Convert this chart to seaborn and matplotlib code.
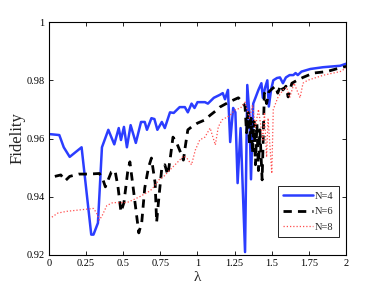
import numpy as np
import pandas as pd
import seaborn as sns
import matplotlib
matplotlib.use("Agg")
import matplotlib.pyplot as plt

# %% Dados

lam_n4 = [0.01, 0.07, 0.10, 0.14, 0.22, 0.285, 0.30, 0.33, 0.357, 0.40, 0.44, 0.47,
          0.485, 0.505, 0.525, 0.55, 0.585, 0.62, 0.645, 0.66, 0.69, 0.71, 0.73,
          0.76, 0.78, 0.815, 0.84, 0.88, 0.915, 0.935, 0.96, 0.98, 1.0, 1.05,
          1.07, 1.11, 1.15, 1.17, 1.185, 1.205, 1.22, 1.24, 1.255, 1.27, 1.29,
          1.32, 1.335, 1.35, 1.36, 1.375, 1.39, 1.41, 1.43, 1.44, 1.455, 1.47,
          1.48, 1.495, 1.51, 1.535, 1.555, 1.575, 1.595, 1.62, 1.645, 1.66,
          1.675, 1.70, 1.76, 1.845, 1.96, 2.0]
fid_n4 = [0.9615, 0.9612, 0.957, 0.9537, 0.957, 0.927, 0.927, 0.931, 0.957, 0.963,
          0.958, 0.9636, 0.9595, 0.964, 0.957, 0.9646, 0.9585, 0.9657, 0.9657,
          0.963, 0.967, 0.9667, 0.963, 0.9657, 0.9636, 0.969, 0.9688, 0.9708,
          0.9708, 0.969, 0.972, 0.9705, 0.9725, 0.9725, 0.972, 0.974, 0.975,
          0.9756, 0.9735, 0.9767, 0.9588, 0.9705, 0.969, 0.9447, 0.9636, 0.921,
          0.9784, 0.968, 0.946, 0.972, 0.974, 0.9767, 0.979, 0.974, 0.9775,
          0.980, 0.971, 0.9767, 0.980, 0.9808, 0.981, 0.979, 0.981, 0.9818,
          0.9818, 0.9825, 0.9818, 0.983, 0.9839, 0.9845, 0.985, 0.9857]

lam_n6 = [0.04, 0.08, 0.11, 0.14, 0.20, 0.27, 0.34, 0.365, 0.38, 0.42, 0.445,
          0.465, 0.485, 0.505, 0.53, 0.545, 0.565, 0.59, 0.605, 0.625, 0.645,
          0.67, 0.69, 0.715, 0.725, 0.74, 0.76, 0.78, 0.80, 0.815, 0.835, 0.86,
          0.88, 0.905, 0.92, 0.935, 0.96, 1.0, 1.05, 1.085, 1.12, 1.15, 1.2,
          1.24, 1.275, 1.305, 1.32, 1.33, 1.34, 1.35, 1.36, 1.37, 1.38, 1.39,
          1.40, 1.41, 1.42, 1.435, 1.45, 1.465, 1.48, 1.50, 1.525, 1.54, 1.56,
          1.575, 1.595, 1.61, 1.635, 1.67, 1.71, 1.78, 1.87, 1.94, 2.0]
fid_n6 = [0.947, 0.9475, 0.9455, 0.947, 0.9478, 0.9478, 0.948, 0.9457, 0.9434,
          0.9485, 0.949, 0.9434, 0.9348, 0.938, 0.9485, 0.952, 0.944, 0.9337,
          0.9276, 0.9313, 0.943, 0.950, 0.9533, 0.9447, 0.9313, 0.9396, 0.950,
          0.951, 0.9475, 0.9526, 0.9605, 0.9585, 0.956, 0.9526, 0.958, 0.963,
          0.964, 0.9653, 0.9664, 0.968, 0.9694, 0.9708, 0.9722, 0.9732, 0.974,
          0.9725, 0.971, 0.962, 0.969, 0.958, 0.967, 0.955, 0.966, 0.951, 0.965,
          0.949, 0.963, 0.9458, 0.9756, 0.972, 0.976, 0.977, 0.978, 0.9756,
          0.9784, 0.9767, 0.978, 0.9743, 0.979, 0.980, 0.981, 0.9825, 0.983,
          0.984, 0.9848]

lam_n8 = [0.02, 0.06, 0.12, 0.21, 0.30, 0.32, 0.34, 0.36, 0.39, 0.43, 0.525,
          0.565, 0.61, 0.68, 0.70, 0.74, 0.77, 0.81, 0.88, 0.905, 0.925, 0.96,
          0.985, 1.015, 1.05, 1.085, 1.12, 1.14, 1.165, 1.22, 1.25, 1.29, 1.32,
          1.35, 1.37, 1.39, 1.41, 1.44, 1.45, 1.465, 1.475, 1.50, 1.51, 1.54,
          1.575, 1.60, 1.62, 1.65, 1.69, 1.71, 1.74, 1.85, 1.96, 2.0]
fid_n8 = [0.933, 0.9344, 0.935, 0.9355, 0.936, 0.9345, 0.932, 0.9337, 0.937,
          0.938, 0.938, 0.9389, 0.940, 0.942, 0.943, 0.9458, 0.9468, 0.949,
          0.9526, 0.954, 0.9535, 0.951, 0.956, 0.9595, 0.9605, 0.9636, 0.9578,
          0.964, 0.9664, 0.968, 0.9698, 0.9705, 0.9725, 0.967, 0.9715, 0.964,
          0.970, 0.9595, 0.969, 0.9536, 0.967, 0.948, 0.970, 0.974, 0.9767,
          0.9777, 0.974, 0.979, 0.974, 0.979, 0.980, 0.9818, 0.983, 0.9842]

x_ticks = [0, 0.25, 0.5, 0.75, 1, 1.25, 1.5, 1.75, 2]
x_tick_labels = ['0', '0.25', '0.5', '0.75', '1', '1.25', '1.5', '1.75', '2']
y_ticks = [0.92, 0.94, 0.96, 0.98, 1.0]
y_tick_labels = ['0.92', '0.94', '0.96', '0.98', '1']

# %% Grafico

sns.set_style("ticks")
plt.rcParams['font.family'] = ['Liberation Serif', 'DejaVu Serif']
plt.rcParams['xtick.direction'] = 'in'
plt.rcParams['ytick.direction'] = 'in'

fig = plt.figure(figsize=(3.82, 2.87), dpi=100)
ax = fig.add_axes([0.128, 0.1115, 0.778, 0.8115])

df4 = pd.DataFrame({'lam': lam_n4, 'fid': fid_n4})
df6 = pd.DataFrame({'lam': lam_n6, 'fid': fid_n6})
df8 = pd.DataFrame({'lam': lam_n8, 'fid': fid_n8})

sns.lineplot(data=df4, x='lam', y='fid', ax=ax, color='#2b3dff', lw=1.8,
             label='N=4', estimator=None)
sns.lineplot(data=df6, x='lam', y='fid', ax=ax, color='black', lw=2.0,
             label='N=6', estimator=None, linestyle=(0, (3, 2.2)))
sns.lineplot(data=df8, x='lam', y='fid', ax=ax, color='#ff4d4d', lw=0.9,
             label='N=8', estimator=None, linestyle=(0, (1, 1.6)))

ax.set_xlim(0, 2)
ax.set_ylim(0.92, 1.0)
ax.set_xticks(x_ticks)
ax.set_xticklabels(x_tick_labels)
ax.set_yticks(y_ticks)
ax.set_yticklabels(y_tick_labels)
ax.tick_params(labelsize=7.5, length=3, width=0.6, top=True, right=True,
               pad=3, colors='black')
for s in ax.spines.values():
    s.set_linewidth(0.8)
    s.set_color('black')

ax.set_xlabel('λ', fontsize=11, labelpad=2)
ax.set_ylabel('Fidelity', fontsize=12, labelpad=1)

leg = ax.legend(loc='lower right', fontsize=7.5, frameon=True, fancybox=False,
                edgecolor='black', framealpha=1, handlelength=2.8,
                handletextpad=0.2, borderpad=0.5, labelspacing=0.6,
                bbox_to_anchor=(0.992, 0.055))
leg.get_frame().set_linewidth(0.6)

plt.savefig('out.png', dpi=100)
